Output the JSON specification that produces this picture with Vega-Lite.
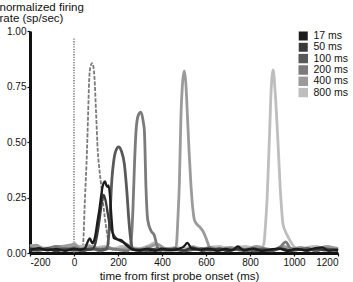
{
  "$schema": "https://vega.github.io/schema/vega-lite/v6.json",
  "autosize": "none",
  "width": 308,
  "height": 222,
  "padding": {"left": 30, "top": 31, "right": 15, "bottom": 29},
  "config": {
    "view": {"stroke": null},
    "font": "Liberation Sans",
    "axis": {
      "grid": false,
      "domainColor": "#111",
      "domainWidth": 3,
      "tickColor": "#111",
      "tickWidth": 1.2,
      "tickSize": 3,
      "labelFontSize": 10,
      "labelColor": "#111",
      "labelPadding": 1,
      "titleFontSize": 11.5,
      "titleFontWeight": "normal",
      "titleColor": "#111"
    }
  },
  "datasets": {
    "probe": [
      {"t": 20, "v": 0.01}, {"t": 40, "v": 0.03}, {"t": 50, "v": 0.25}, {"t": 59, "v": 0.46},
      {"t": 64, "v": 0.62}, {"t": 69, "v": 0.78}, {"t": 75, "v": 0.84}, {"t": 82, "v": 0.855},
      {"t": 88, "v": 0.84}, {"t": 93, "v": 0.79}, {"t": 100, "v": 0.64}, {"t": 108, "v": 0.46},
      {"t": 115, "v": 0.38}, {"t": 123, "v": 0.31}, {"t": 140, "v": 0.16}, {"t": 150, "v": 0.09},
      {"t": 161, "v": 0.03}, {"t": 175, "v": 0.01}
    ],
    "curves": [
      {"s": "800 ms", "t": -200, "v": 0.035}, {"s": "800 ms", "t": -180, "v": 0.03}, {"s": "800 ms", "t": -150, "v": 0.025},
      {"s": "800 ms", "t": -110, "v": 0.02}, {"s": "800 ms", "t": -77, "v": 0.03}, {"s": "800 ms", "t": -40, "v": 0.027},
      {"s": "800 ms", "t": -5, "v": 0.03}, {"s": "800 ms", "t": 0, "v": 0.045}, {"s": "800 ms", "t": 20, "v": 0.03},
      {"s": "800 ms", "t": 60, "v": 0.035}, {"s": "800 ms", "t": 100, "v": 0.025}, {"s": "800 ms", "t": 140, "v": 0.03},
      {"s": "800 ms", "t": 180, "v": 0.02}, {"s": "800 ms", "t": 220, "v": 0.03}, {"s": "800 ms", "t": 260, "v": 0.025},
      {"s": "800 ms", "t": 300, "v": 0.02}, {"s": "800 ms", "t": 343, "v": 0.035}, {"s": "800 ms", "t": 365, "v": 0.045},
      {"s": "800 ms", "t": 388, "v": 0.035}, {"s": "800 ms", "t": 420, "v": 0.02}, {"s": "800 ms", "t": 460, "v": 0.025},
      {"s": "800 ms", "t": 500, "v": 0.02}, {"s": "800 ms", "t": 540, "v": 0.03}, {"s": "800 ms", "t": 580, "v": 0.02},
      {"s": "800 ms", "t": 620, "v": 0.025}, {"s": "800 ms", "t": 660, "v": 0.03}, {"s": "800 ms", "t": 700, "v": 0.02},
      {"s": "800 ms", "t": 740, "v": 0.025}, {"s": "800 ms", "t": 780, "v": 0.03}, {"s": "800 ms", "t": 820, "v": 0.02},
      {"s": "800 ms", "t": 855, "v": 0.025}, {"s": "800 ms", "t": 863, "v": 0.04}, {"s": "800 ms", "t": 870, "v": 0.12},
      {"s": "800 ms", "t": 878, "v": 0.25}, {"s": "800 ms", "t": 889, "v": 0.54}, {"s": "800 ms", "t": 896, "v": 0.73},
      {"s": "800 ms", "t": 905, "v": 0.825}, {"s": "800 ms", "t": 914, "v": 0.73}, {"s": "800 ms", "t": 925, "v": 0.54},
      {"s": "800 ms", "t": 940, "v": 0.25}, {"s": "800 ms", "t": 950, "v": 0.13}, {"s": "800 ms", "t": 962, "v": 0.095},
      {"s": "800 ms", "t": 977, "v": 0.065}, {"s": "800 ms", "t": 999, "v": 0.03}, {"s": "800 ms", "t": 1020, "v": 0.015},
      {"s": "800 ms", "t": 1060, "v": 0.025}, {"s": "800 ms", "t": 1100, "v": 0.03}, {"s": "800 ms", "t": 1140, "v": 0.02},
      {"s": "800 ms", "t": 1180, "v": 0.025}, {"s": "800 ms", "t": 1200, "v": 0.02},

      {"s": "400 ms", "t": -200, "v": 0.03}, {"s": "400 ms", "t": -170, "v": 0.035}, {"s": "400 ms", "t": -140, "v": 0.02},
      {"s": "400 ms", "t": -100, "v": 0.025}, {"s": "400 ms", "t": -60, "v": 0.03}, {"s": "400 ms", "t": -20, "v": 0.035},
      {"s": "400 ms", "t": 0, "v": 0.04}, {"s": "400 ms", "t": 30, "v": 0.02}, {"s": "400 ms", "t": 70, "v": 0.03},
      {"s": "400 ms", "t": 110, "v": 0.02}, {"s": "400 ms", "t": 150, "v": 0.025}, {"s": "400 ms", "t": 190, "v": 0.015},
      {"s": "400 ms", "t": 230, "v": 0.02}, {"s": "400 ms", "t": 270, "v": 0.015}, {"s": "400 ms", "t": 310, "v": 0.02},
      {"s": "400 ms", "t": 350, "v": 0.03}, {"s": "400 ms", "t": 380, "v": 0.04}, {"s": "400 ms", "t": 410, "v": 0.02},
      {"s": "400 ms", "t": 440, "v": 0.015}, {"s": "400 ms", "t": 460, "v": 0.02}, {"s": "400 ms", "t": 466, "v": 0.04},
      {"s": "400 ms", "t": 472, "v": 0.15}, {"s": "400 ms", "t": 479, "v": 0.315}, {"s": "400 ms", "t": 486, "v": 0.61},
      {"s": "400 ms", "t": 493, "v": 0.76}, {"s": "400 ms", "t": 501, "v": 0.82}, {"s": "400 ms", "t": 508, "v": 0.77},
      {"s": "400 ms", "t": 516, "v": 0.61}, {"s": "400 ms", "t": 523, "v": 0.46}, {"s": "400 ms", "t": 531, "v": 0.315},
      {"s": "400 ms", "t": 540, "v": 0.2}, {"s": "400 ms", "t": 547, "v": 0.15}, {"s": "400 ms", "t": 558, "v": 0.13},
      {"s": "400 ms", "t": 569, "v": 0.12}, {"s": "400 ms", "t": 585, "v": 0.1}, {"s": "400 ms", "t": 599, "v": 0.07},
      {"s": "400 ms", "t": 614, "v": 0.03}, {"s": "400 ms", "t": 630, "v": 0.015}, {"s": "400 ms", "t": 670, "v": 0.02},
      {"s": "400 ms", "t": 710, "v": 0.025}, {"s": "400 ms", "t": 750, "v": 0.015}, {"s": "400 ms", "t": 790, "v": 0.02},
      {"s": "400 ms", "t": 830, "v": 0.03}, {"s": "400 ms", "t": 870, "v": 0.02}, {"s": "400 ms", "t": 910, "v": 0.015},
      {"s": "400 ms", "t": 950, "v": 0.03}, {"s": "400 ms", "t": 990, "v": 0.02}, {"s": "400 ms", "t": 1030, "v": 0.025},
      {"s": "400 ms", "t": 1070, "v": 0.015}, {"s": "400 ms", "t": 1110, "v": 0.02}, {"s": "400 ms", "t": 1150, "v": 0.03},
      {"s": "400 ms", "t": 1200, "v": 0.015},

      {"s": "200 ms", "t": -200, "v": 0.025}, {"s": "200 ms", "t": -160, "v": 0.015}, {"s": "200 ms", "t": -120, "v": 0.02},
      {"s": "200 ms", "t": -80, "v": 0.03}, {"s": "200 ms", "t": -40, "v": 0.015}, {"s": "200 ms", "t": 0, "v": 0.025},
      {"s": "200 ms", "t": 40, "v": 0.015}, {"s": "200 ms", "t": 80, "v": 0.02}, {"s": "200 ms", "t": 120, "v": 0.01},
      {"s": "200 ms", "t": 160, "v": 0.02}, {"s": "200 ms", "t": 200, "v": 0.015}, {"s": "200 ms", "t": 240, "v": 0.01},
      {"s": "200 ms", "t": 255, "v": 0.02}, {"s": "200 ms", "t": 262, "v": 0.08}, {"s": "200 ms", "t": 268, "v": 0.2},
      {"s": "200 ms", "t": 275, "v": 0.4}, {"s": "200 ms", "t": 282, "v": 0.55}, {"s": "200 ms", "t": 292, "v": 0.62},
      {"s": "200 ms", "t": 304, "v": 0.635}, {"s": "200 ms", "t": 315, "v": 0.59}, {"s": "200 ms", "t": 320, "v": 0.55},
      {"s": "200 ms", "t": 327, "v": 0.3}, {"s": "200 ms", "t": 335, "v": 0.15}, {"s": "200 ms", "t": 350, "v": 0.1},
      {"s": "200 ms", "t": 365, "v": 0.08}, {"s": "200 ms", "t": 378, "v": 0.03}, {"s": "200 ms", "t": 390, "v": 0.012},
      {"s": "200 ms", "t": 420, "v": 0.02}, {"s": "200 ms", "t": 460, "v": 0.015}, {"s": "200 ms", "t": 500, "v": 0.01},
      {"s": "200 ms", "t": 540, "v": 0.02}, {"s": "200 ms", "t": 580, "v": 0.015}, {"s": "200 ms", "t": 620, "v": 0.025},
      {"s": "200 ms", "t": 660, "v": 0.012}, {"s": "200 ms", "t": 700, "v": 0.02}, {"s": "200 ms", "t": 740, "v": 0.015},
      {"s": "200 ms", "t": 780, "v": 0.01}, {"s": "200 ms", "t": 820, "v": 0.02}, {"s": "200 ms", "t": 860, "v": 0.015},
      {"s": "200 ms", "t": 900, "v": 0.01}, {"s": "200 ms", "t": 940, "v": 0.03}, {"s": "200 ms", "t": 962, "v": 0.05},
      {"s": "200 ms", "t": 985, "v": 0.02}, {"s": "200 ms", "t": 1020, "v": 0.015}, {"s": "200 ms", "t": 1060, "v": 0.02},
      {"s": "200 ms", "t": 1100, "v": 0.01}, {"s": "200 ms", "t": 1140, "v": 0.02}, {"s": "200 ms", "t": 1180, "v": 0.015},
      {"s": "200 ms", "t": 1200, "v": 0.02},

      {"s": "100 ms", "t": -200, "v": 0.02}, {"s": "100 ms", "t": -160, "v": 0.012}, {"s": "100 ms", "t": -120, "v": 0.018},
      {"s": "100 ms", "t": -80, "v": 0.01}, {"s": "100 ms", "t": -40, "v": 0.02}, {"s": "100 ms", "t": 0, "v": 0.015},
      {"s": "100 ms", "t": 40, "v": 0.01}, {"s": "100 ms", "t": 80, "v": 0.02}, {"s": "100 ms", "t": 120, "v": 0.015},
      {"s": "100 ms", "t": 150, "v": 0.02}, {"s": "100 ms", "t": 158, "v": 0.08}, {"s": "100 ms", "t": 165, "v": 0.2},
      {"s": "100 ms", "t": 172, "v": 0.33}, {"s": "100 ms", "t": 180, "v": 0.41}, {"s": "100 ms", "t": 190, "v": 0.46},
      {"s": "100 ms", "t": 203, "v": 0.478}, {"s": "100 ms", "t": 215, "v": 0.46}, {"s": "100 ms", "t": 229, "v": 0.4},
      {"s": "100 ms", "t": 240, "v": 0.28}, {"s": "100 ms", "t": 250, "v": 0.14}, {"s": "100 ms", "t": 258, "v": 0.06},
      {"s": "100 ms", "t": 266, "v": 0.02}, {"s": "100 ms", "t": 300, "v": 0.015}, {"s": "100 ms", "t": 340, "v": 0.01},
      {"s": "100 ms", "t": 380, "v": 0.02}, {"s": "100 ms", "t": 420, "v": 0.012}, {"s": "100 ms", "t": 460, "v": 0.018},
      {"s": "100 ms", "t": 500, "v": 0.01}, {"s": "100 ms", "t": 540, "v": 0.015}, {"s": "100 ms", "t": 580, "v": 0.02},
      {"s": "100 ms", "t": 620, "v": 0.012}, {"s": "100 ms", "t": 660, "v": 0.018}, {"s": "100 ms", "t": 700, "v": 0.01},
      {"s": "100 ms", "t": 740, "v": 0.02}, {"s": "100 ms", "t": 780, "v": 0.015}, {"s": "100 ms", "t": 820, "v": 0.01},
      {"s": "100 ms", "t": 860, "v": 0.018}, {"s": "100 ms", "t": 900, "v": 0.012}, {"s": "100 ms", "t": 940, "v": 0.02},
      {"s": "100 ms", "t": 980, "v": 0.01}, {"s": "100 ms", "t": 1020, "v": 0.015}, {"s": "100 ms", "t": 1060, "v": 0.02},
      {"s": "100 ms", "t": 1100, "v": 0.012}, {"s": "100 ms", "t": 1140, "v": 0.018}, {"s": "100 ms", "t": 1200, "v": 0.01},

      {"s": "50 ms", "t": -200, "v": 0.01}, {"s": "50 ms", "t": -160, "v": 0.015}, {"s": "50 ms", "t": -120, "v": 0.02},
      {"s": "50 ms", "t": -80, "v": 0.01}, {"s": "50 ms", "t": -40, "v": 0.015}, {"s": "50 ms", "t": 0, "v": 0.012},
      {"s": "50 ms", "t": 40, "v": 0.018}, {"s": "50 ms", "t": 80, "v": 0.015}, {"s": "50 ms", "t": 93, "v": 0.03},
      {"s": "50 ms", "t": 105, "v": 0.08}, {"s": "50 ms", "t": 116, "v": 0.15}, {"s": "50 ms", "t": 124, "v": 0.21},
      {"s": "50 ms", "t": 131, "v": 0.254}, {"s": "50 ms", "t": 135, "v": 0.262}, {"s": "50 ms", "t": 140, "v": 0.25},
      {"s": "50 ms", "t": 146, "v": 0.224}, {"s": "50 ms", "t": 153, "v": 0.18}, {"s": "50 ms", "t": 161, "v": 0.134},
      {"s": "50 ms", "t": 168, "v": 0.11}, {"s": "50 ms", "t": 176, "v": 0.09}, {"s": "50 ms", "t": 188, "v": 0.07},
      {"s": "50 ms", "t": 199, "v": 0.06}, {"s": "50 ms", "t": 221, "v": 0.05}, {"s": "50 ms", "t": 244, "v": 0.036},
      {"s": "50 ms", "t": 265, "v": 0.015}, {"s": "50 ms", "t": 300, "v": 0.01}, {"s": "50 ms", "t": 340, "v": 0.02},
      {"s": "50 ms", "t": 380, "v": 0.012}, {"s": "50 ms", "t": 420, "v": 0.015}, {"s": "50 ms", "t": 460, "v": 0.02},
      {"s": "50 ms", "t": 500, "v": 0.012}, {"s": "50 ms", "t": 540, "v": 0.025}, {"s": "50 ms", "t": 580, "v": 0.01},
      {"s": "50 ms", "t": 620, "v": 0.015}, {"s": "50 ms", "t": 660, "v": 0.02}, {"s": "50 ms", "t": 700, "v": 0.01},
      {"s": "50 ms", "t": 740, "v": 0.018}, {"s": "50 ms", "t": 780, "v": 0.012}, {"s": "50 ms", "t": 820, "v": 0.02},
      {"s": "50 ms", "t": 860, "v": 0.01}, {"s": "50 ms", "t": 900, "v": 0.015}, {"s": "50 ms", "t": 940, "v": 0.02},
      {"s": "50 ms", "t": 980, "v": 0.012}, {"s": "50 ms", "t": 1020, "v": 0.018}, {"s": "50 ms", "t": 1060, "v": 0.01},
      {"s": "50 ms", "t": 1100, "v": 0.02}, {"s": "50 ms", "t": 1140, "v": 0.012}, {"s": "50 ms", "t": 1180, "v": 0.015},
      {"s": "50 ms", "t": 1200, "v": 0.01},

      {"s": "17 ms", "t": -200, "v": 0.015}, {"s": "17 ms", "t": -160, "v": 0.022}, {"s": "17 ms", "t": -120, "v": 0.012},
      {"s": "17 ms", "t": -80, "v": 0.018}, {"s": "17 ms", "t": -40, "v": 0.01}, {"s": "17 ms", "t": 0, "v": 0.02},
      {"s": "17 ms", "t": 30, "v": 0.015}, {"s": "17 ms", "t": 49, "v": 0.02}, {"s": "17 ms", "t": 60, "v": 0.045},
      {"s": "17 ms", "t": 72, "v": 0.066}, {"s": "17 ms", "t": 80, "v": 0.05}, {"s": "17 ms", "t": 85, "v": 0.044},
      {"s": "17 ms", "t": 95, "v": 0.07}, {"s": "17 ms", "t": 108, "v": 0.15}, {"s": "17 ms", "t": 116, "v": 0.2},
      {"s": "17 ms", "t": 123, "v": 0.254}, {"s": "17 ms", "t": 130, "v": 0.3}, {"s": "17 ms", "t": 135, "v": 0.315},
      {"s": "17 ms", "t": 141, "v": 0.322}, {"s": "17 ms", "t": 147, "v": 0.305}, {"s": "17 ms", "t": 153, "v": 0.298},
      {"s": "17 ms", "t": 157, "v": 0.305}, {"s": "17 ms", "t": 164, "v": 0.254}, {"s": "17 ms", "t": 171, "v": 0.15},
      {"s": "17 ms", "t": 180, "v": 0.068}, {"s": "17 ms", "t": 195, "v": 0.062}, {"s": "17 ms", "t": 214, "v": 0.058},
      {"s": "17 ms", "t": 237, "v": 0.036}, {"s": "17 ms", "t": 259, "v": 0.02}, {"s": "17 ms", "t": 290, "v": 0.012},
      {"s": "17 ms", "t": 330, "v": 0.018}, {"s": "17 ms", "t": 368, "v": 0.01}, {"s": "17 ms", "t": 400, "v": 0.02},
      {"s": "17 ms", "t": 440, "v": 0.012}, {"s": "17 ms", "t": 480, "v": 0.02}, {"s": "17 ms", "t": 500, "v": 0.03},
      {"s": "17 ms", "t": 515, "v": 0.045}, {"s": "17 ms", "t": 535, "v": 0.02}, {"s": "17 ms", "t": 570, "v": 0.015},
      {"s": "17 ms", "t": 610, "v": 0.02}, {"s": "17 ms", "t": 650, "v": 0.01}, {"s": "17 ms", "t": 690, "v": 0.018},
      {"s": "17 ms", "t": 720, "v": 0.012}, {"s": "17 ms", "t": 745, "v": 0.03}, {"s": "17 ms", "t": 770, "v": 0.012},
      {"s": "17 ms", "t": 810, "v": 0.02}, {"s": "17 ms", "t": 850, "v": 0.01}, {"s": "17 ms", "t": 890, "v": 0.015},
      {"s": "17 ms", "t": 930, "v": 0.02}, {"s": "17 ms", "t": 970, "v": 0.01}, {"s": "17 ms", "t": 1010, "v": 0.018},
      {"s": "17 ms", "t": 1050, "v": 0.012}, {"s": "17 ms", "t": 1090, "v": 0.02}, {"s": "17 ms", "t": 1127, "v": 0.025},
      {"s": "17 ms", "t": 1160, "v": 0.01}, {"s": "17 ms", "t": 1200, "v": 0.015}
    ],
    "onset": [{"t": 0, "a": 0, "b": 0.97}]
  },
  "layer": [
    {
      "data": {"name": "onset"},
      "mark": {"type": "rule", "color": "#666", "strokeWidth": 1.3, "strokeDash": [1.3, 1.3]},
      "encoding": {
        "x": {"field": "t", "type": "quantitative"},
        "y": {"field": "a", "type": "quantitative"},
        "y2": {"field": "b"}
      }
    },
    {
      "data": {"name": "probe"},
      "mark": {"type": "line", "color": "#7a7a7a", "strokeWidth": 1.8, "strokeDash": [4, 1.5], "interpolate": "monotone"},
      "encoding": {
        "x": {"field": "t", "type": "quantitative"},
        "y": {"field": "v", "type": "quantitative"}
      }
    },
    {
      "data": {"name": "curves"},
      "mark": {"type": "line", "interpolate": "monotone", "strokeJoin": "round"},
      "encoding": {
        "x": {
          "field": "t", "type": "quantitative",
          "scale": {"domain": [-200, 1200], "nice": false, "zero": false},
          "axis": {
            "values": [-200, -100, 0, 100, 200, 300, 400, 500, 600, 700, 800, 900, 1000, 1100, 1200],
            "labelExpr": "datum.value % 200 === 0 ? '' + datum.value : ''",
            "title": "time from first probe onset (ms)",
            "titleX": 149,
            "titleY": 26.5,
            "titleBaseline": "alphabetic",
            "titleAnchor": "middle",
            "titleAlign": "center"
          }
        },
        "y": {
          "field": "v", "type": "quantitative",
          "scale": {"domain": [0, 1], "nice": false},
          "axis": {
            "values": [0, 0.25, 0.5, 0.75, 1],
            "format": ".2f",
            "title": ["normalized firing", "rate (sp/sec)"],
            "titleAngle": 0,
            "titleAlign": "left",
            "titleBaseline": "alphabetic",
            "titleX": -31,
            "titleY": -21,
            "titleLineHeight": 11
          }
        },
        "color": {
          "field": "s", "type": "nominal",
          "scale": {
            "domain": ["17 ms", "50 ms", "100 ms", "200 ms", "400 ms", "800 ms"],
            "range": ["#1c1c1c", "#3a3a3a", "#595959", "#7b7b7b", "#9b9b9b", "#bebebe"]
          },
          "legend": {
            "title": null,
            "orient": "none",
            "legendX": 268,
            "legendY": 0,
            "padding": 0,
            "symbolType": "square",
            "symbolSize": 45,
            "symbolStrokeWidth": 0,
            "labelFontSize": 10.5,
            "labelColor": "#111",
            "labelOffset": 5,
            "clipHeight": 10,
            "rowPadding": 0.3,
            "encode": {
              "symbols": {"update": {"fill": {"scale": "color", "field": "value"}, "fillOpacity": {"value": 1}}}
            }
          }
        },
        "strokeWidth": {
          "field": "s", "type": "nominal",
          "scale": {
            "type": "ordinal",
            "domain": ["17 ms", "50 ms", "100 ms", "200 ms", "400 ms", "800 ms"],
            "range": [2.3, 2.3, 2.8, 2.8, 2.8, 2.8]
          },
          "legend": null
        }
      }
    }
  ]
}
